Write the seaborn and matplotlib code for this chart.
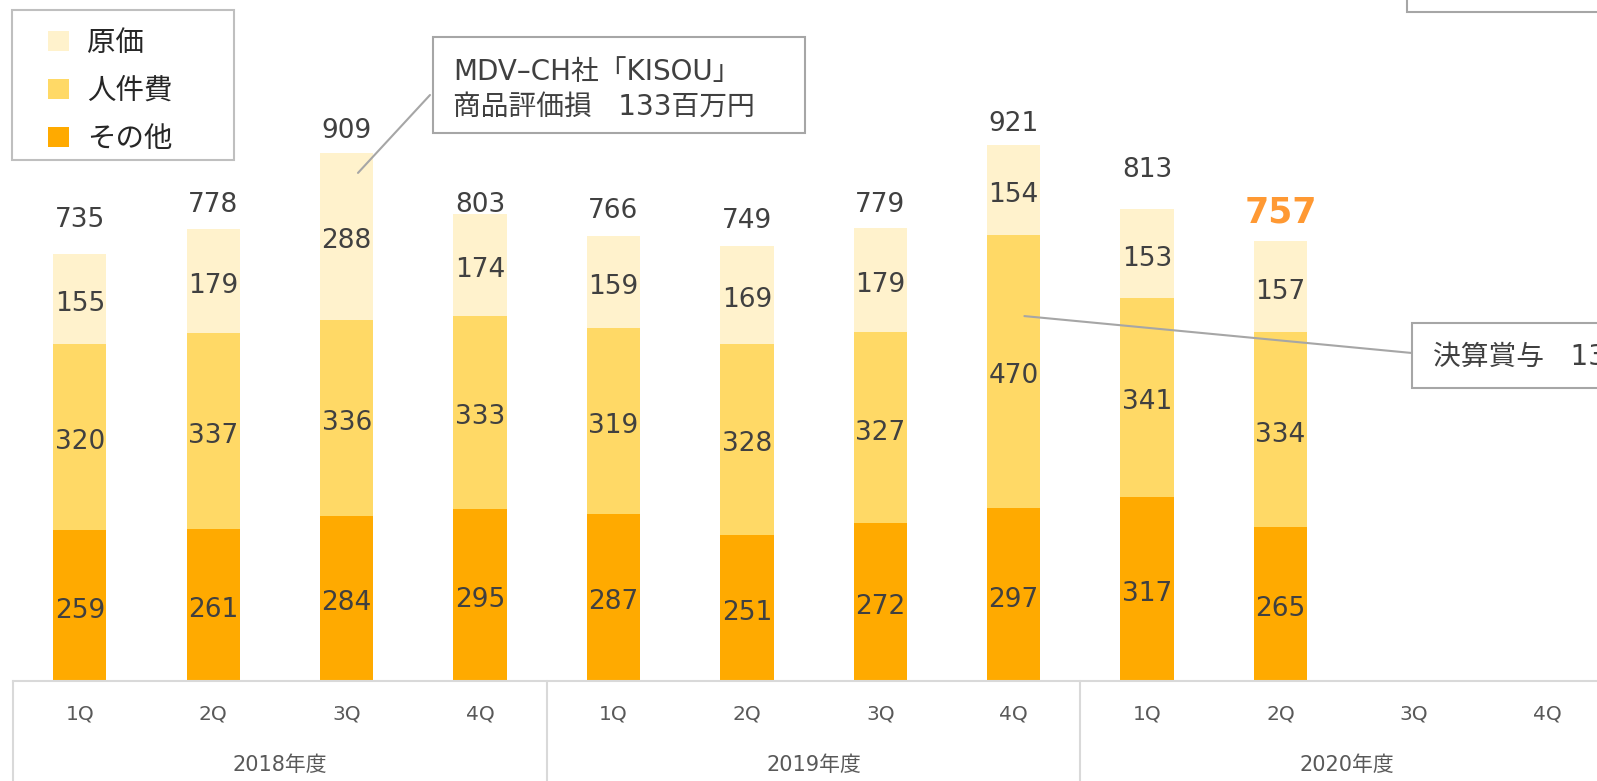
import matplotlib
matplotlib.use("Agg")
import matplotlib.pyplot as plt
import matplotlib.transforms as mtransforms
from matplotlib.patches import Patch, Rectangle
import pandas as pd
import seaborn as sns

# ---------------- data ----------------
years = ["2018年度", "2019年度", "2020年度"]
quarters = ["1Q", "2Q", "3Q", "4Q"]
series_names = ["原価", "人件費", "その他"]
genka = [155, 179, 288, 174, 159, 169, 179, 154, 153, 157]
jinkenhi = [320, 337, 336, 333, 319, 328, 327, 470, 341, 334]
sonota = [259, 261, 284, 295, 287, 251, 272, 297, 317, 265]
totals = [735, 778, 909, 803, 766, 749, 779, 921, 813, 757]
note1_lines = ["MDV–CH社「KISOU」", "商品評価損   133百万円"]
note2_text = "決算賞与   133百万円"

# ---------------- style ----------------
colors = {"原価": "#FFF2CC", "人件費": "#FFD966", "その他": "#FFAA00"}
total_offsets_px = [34, 24, 22, 9, 25, 25, 23, 21, 39, 29]
highlight_index = 9
label_color = "#404040"
grid_color = "#D9D9D9"
box_color = "#A6A6A6"

sns.set_theme(style="white")
plt.rcParams["font.family"] = ["DejaVu Sans", "Noto Sans CJK JP"]

W, H, DPI = 1597, 781, 100
PT = 72 / DPI
fig = plt.figure(figsize=(W / DPI, H / DPI), dpi=DPI)
base_y = 681
px_per_unit = 0.582
ax = fig.add_axes([13.1 / W, (H - base_y) / H, 1601 / W, base_y / H])
ax.patch.set_alpha(0)

slots = [f"{y}_{q}" for y in years for q in quarters]
n = len(genka)
df = pd.DataFrame({"slot": slots[:n], "原価": genka, "人件費": jinkenhi, "その他": sonota})
df["top_その他"] = df["その他"]
df["top_人件費"] = df["その他"] + df["人件費"]
df["top_原価"] = df["top_人件費"] + df["原価"]

for name in series_names:
    sns.barplot(data=df, x="slot", y=f"top_{name}", order=slots, color=colors[name],
                saturation=1, width=0.4, errorbar=None, linewidth=0, ax=ax)

ax.set_xlim(-0.5, len(slots) - 0.5)
ax.set_ylim(0, base_y / px_per_unit)
ax.set_xlabel("")
ax.set_ylabel("")
ax.set_yticks([])
ax.set_xticks(range(len(slots)))
ax.set_xticklabels(quarters * len(years), fontsize=14.5, color="#595959")
ax.tick_params(axis="x", length=0, pad=17)
for s in ["top", "left", "right"]:
    ax.spines[s].set_visible(False)
ax.spines["bottom"].set_color(grid_color)
ax.spines["bottom"].set_linewidth(1.5)

# segment labels
fs_val = 19
seg_shift = -5 * PT
for i in range(n):
    b1 = sonota[i]
    b2 = b1 + jinkenhi[i]
    b3 = b2 + genka[i]
    for val, yc in [(sonota[i], b1 / 2), (jinkenhi[i], (b1 + b2) / 2), (genka[i], (b2 + b3) / 2)]:
        ax.annotate(str(val), xy=(i, yc), xytext=(0, seg_shift), textcoords="offset points",
                    ha="center", va="center", fontsize=fs_val, color=label_color)
    if i == highlight_index:
        ax.annotate(str(totals[i]), xy=(i, b3), xytext=(0, total_offsets_px[i] * PT),
                    textcoords="offset points", ha="center", va="center",
                    fontsize=25, fontweight="bold", color="#FF9933")
    else:
        ax.annotate(str(totals[i]), xy=(i, b3), xytext=(0, total_offsets_px[i] * PT),
                    textcoords="offset points", ha="center", va="center",
                    fontsize=fs_val, color=label_color)

# category separators and year labels
sep_tr = mtransforms.blended_transform_factory(ax.transData, ax.transAxes)
for k in range(len(years) + 1):
    xv = k * len(quarters) - 0.5
    ax.plot([xv, xv], [0, -(H - base_y) / base_y], transform=sep_tr, clip_on=False,
            color=grid_color, lw=1.5)
year_tr = mtransforms.blended_transform_factory(ax.transData, fig.transFigure)
for k, y in enumerate(years):
    ax.text(k * len(quarters) + 1.5, 1 - 765 / H, y, transform=year_tr, ha="center", va="center",
            fontsize=15, color="#595959")


def fig_rect(x0, y0, x1, y1, **kw):
    r = Rectangle((x0 / W, 1 - y1 / H), (x1 - x0) / W, (y1 - y0) / H,
                  transform=fig.transFigure, fill=True, facecolor="white", **kw)
    fig.add_artist(r)
    return r


# legend
fig_rect(12, 10, 234, 160, edgecolor="#BFBFBF", lw=1.5, zorder=1)
handles = [Patch(facecolor=colors[nm], edgecolor="none", label=nm) for nm in series_names]
leg = fig.legend(handles=handles, loc="center left", bbox_to_anchor=(48 / W, 1 - 91 / H),
                 frameon=False, fontsize=20.5, handlelength=0.74, handleheight=0.74,
                 handletextpad=0.62, labelspacing=0.70, borderpad=0, borderaxespad=0,
                 labelcolor="#262626")
leg.set_zorder(5)

# annotation 1
ax.annotate("", xy=(2.085, 873), xycoords="data", xytext=(430, H - 95), textcoords="figure pixels",
            arrowprops=dict(arrowstyle="-", color=box_color, lw=1.5, shrinkA=0, shrinkB=0))
fig_rect(433, 37, 805, 133, edgecolor=box_color, lw=1.5, zorder=3)
fig.text(453 / W, 1 - 72 / H, note1_lines[0], ha="left", va="center", fontsize=20, color=label_color, zorder=4)
fig.text(453 / W, 1 - 107 / H, note1_lines[1], ha="left", va="center", fontsize=20, color=label_color, zorder=4)

# annotation 2
ax.annotate("", xy=(7.08, 627), xycoords="data", xytext=(1412, H - 353), textcoords="figure pixels",
            arrowprops=dict(arrowstyle="-", color=box_color, lw=1.5, shrinkA=0, shrinkB=0))
fig_rect(1412, 323, 1700, 388, edgecolor=box_color, lw=1.5, zorder=3)
fig.text(1433 / W, 1 - 357 / H, note2_text, ha="left", va="center", fontsize=20, color=label_color, zorder=4)

# partial box at top right
fig_rect(1407, -50, 1700, 12, edgecolor=box_color, lw=1.5, zorder=3)

fig.savefig("out.png", dpi=DPI)
